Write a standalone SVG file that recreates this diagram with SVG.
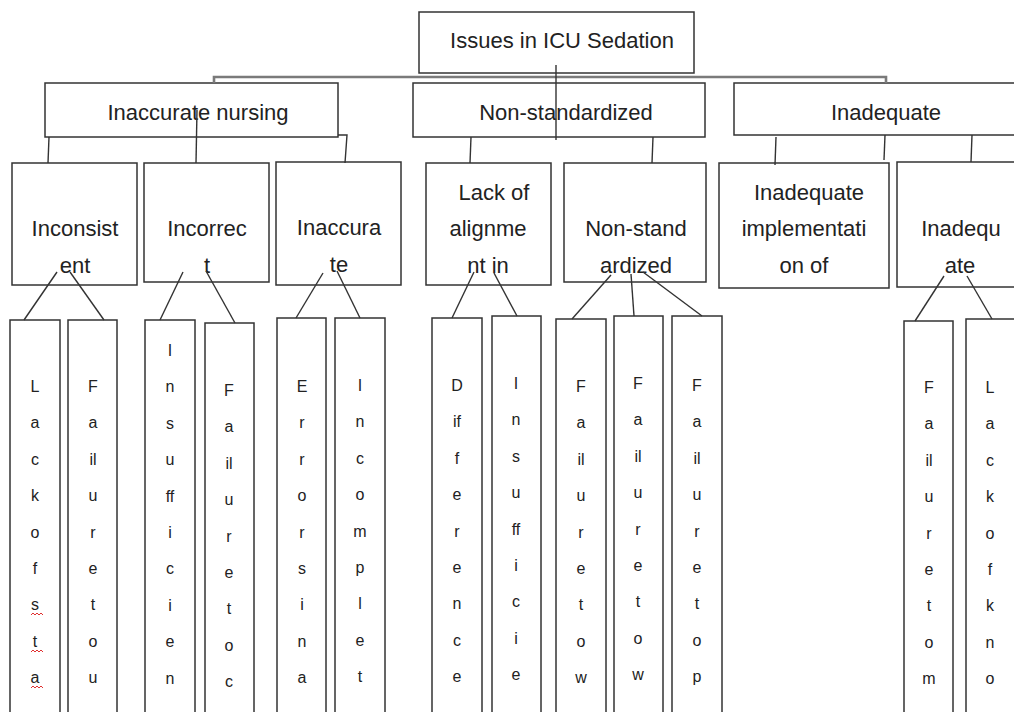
<svg xmlns="http://www.w3.org/2000/svg" width="1014" height="712" viewBox="0 0 1014 712">
<style>
.b{fill:#fff;stroke:#333;stroke-width:1.5}
.t{font-family:"Liberation Sans",Arial,sans-serif;font-size:22px;fill:#222;text-anchor:middle}
.v{font-family:"Liberation Sans",Arial,sans-serif;font-size:16px;fill:#222;text-anchor:middle}
.c{fill:none;stroke:#333;stroke-width:1.4}
.g{fill:none;stroke:#7a7a7a;stroke-width:2.6}
.sq{fill:none;stroke:#e03030;stroke-width:1}
</style>
<rect width="1014" height="712" fill="#fff"/>

<g id="root"><rect class="b" x="419" y="12" width="275" height="61"/><text class="t" x="562" y="48">Issues in ICU Sedation</text></g>

<g id="n-inaccurate-nursing"><rect class="b" x="45" y="83" width="293" height="54"/><text class="t" x="198" y="120">Inaccurate nursing</text></g>
<g id="n-non-standardized"><rect class="b" x="413" y="83" width="292" height="54"/><text class="t" x="566" y="120">Non-standardized</text></g>
<g id="n-inadequate"><rect class="b" x="734" y="83" width="290" height="52"/><text class="t" x="886" y="120">Inadequate</text></g>

<g id="n-inconsistent"><rect class="b" x="12" y="163" width="125" height="122"/><text class="t" x="75" y="236">Inconsist</text><text class="t" x="75" y="273">ent</text></g>
<g id="n-incorrect"><rect class="b" x="144" y="163" width="125" height="119"/><text class="t" x="207" y="236">Incorrec</text><text class="t" x="207" y="273">t</text></g>
<g id="n-inaccurate"><rect class="b" x="276" y="162" width="125" height="123"/><text class="t" x="339" y="235">Inaccura</text><text class="t" x="339" y="272">te</text></g>
<g id="n-lack-alignment"><rect class="b" x="426" y="163" width="125" height="122"/><text class="t" x="494" y="200">Lack of</text><text class="t" x="488" y="236">alignme</text><text class="t" x="488" y="273">nt in</text></g>
<g id="n-non-standardized-2"><rect class="b" x="564" y="163" width="142" height="119"/><text class="t" x="636" y="236">Non-stand</text><text class="t" x="636" y="273">ardized</text></g>
<g id="n-inadequate-impl"><rect class="b" x="719" y="163" width="170" height="125"/><text class="t" x="809" y="200">Inadequate</text><text class="t" x="804" y="236">implementati</text><text class="t" x="804" y="273">on of</text></g>
<g id="n-inadequate-2"><rect class="b" x="897" y="162" width="130" height="125"/><text class="t" x="961" y="236">Inadequ</text><text class="t" x="960" y="273">ate</text></g>

<g id="col1"><rect class="b" x="10" y="320" width="50" height="400"/>
<text class="v" x="35" y="392">L</text><text class="v" x="35" y="428">a</text><text class="v" x="35" y="465">c</text><text class="v" x="35" y="501">k</text><text class="v" x="35" y="538">o</text><text class="v" x="35" y="574">f</text><text class="v" x="35" y="610">s</text><text class="v" x="35" y="647">t</text><text class="v" x="35" y="683">a</text>
<path class="sq" d="M31,615 l2,-2 l2,2 l2,-2 l2,2 l2,-2 l2,2"/><path class="sq" d="M31,652 l2,-2 l2,2 l2,-2 l2,2 l2,-2 l2,2"/><path class="sq" d="M31,688 l2,-2 l2,2 l2,-2 l2,2 l2,-2 l2,2"/></g>
<g id="col2"><rect class="b" x="68" y="320" width="49" height="400"/>
<text class="v" x="93" y="392">F</text><text class="v" x="93" y="428">a</text><text class="v" x="93" y="465">il</text><text class="v" x="93" y="501">u</text><text class="v" x="93" y="538">r</text><text class="v" x="93" y="574">e</text><text class="v" x="93" y="610">t</text><text class="v" x="93" y="647">o</text><text class="v" x="93" y="683">u</text></g>
<g id="col3"><rect class="b" x="145" y="320" width="50" height="400"/>
<text class="v" x="170" y="356">I</text><text class="v" x="170" y="392">n</text><text class="v" x="170" y="429">s</text><text class="v" x="170" y="465">u</text><text class="v" x="170" y="502">ff</text><text class="v" x="170" y="538">i</text><text class="v" x="170" y="574">c</text><text class="v" x="170" y="611">i</text><text class="v" x="170" y="647">e</text><text class="v" x="170" y="684">n</text></g>
<g id="col4"><rect class="b" x="205" y="323" width="49" height="400"/>
<text class="v" x="229" y="396">F</text><text class="v" x="229" y="432">a</text><text class="v" x="229" y="469">il</text><text class="v" x="229" y="505">u</text><text class="v" x="229" y="542">r</text><text class="v" x="229" y="578">e</text><text class="v" x="229" y="614">t</text><text class="v" x="229" y="651">o</text><text class="v" x="229" y="687">c</text></g>
<g id="col5"><rect class="b" x="277" y="318" width="49" height="400"/>
<text class="v" x="302" y="392">E</text><text class="v" x="302" y="428">r</text><text class="v" x="302" y="465">r</text><text class="v" x="302" y="501">o</text><text class="v" x="302" y="538">r</text><text class="v" x="302" y="574">s</text><text class="v" x="302" y="610">i</text><text class="v" x="302" y="647">n</text><text class="v" x="302" y="683">a</text></g>
<g id="col6"><rect class="b" x="335" y="318" width="50" height="400"/>
<text class="v" x="360" y="391">I</text><text class="v" x="360" y="427">n</text><text class="v" x="360" y="464">c</text><text class="v" x="360" y="500">o</text><text class="v" x="360" y="537">m</text><text class="v" x="360" y="573">p</text><text class="v" x="360" y="609">l</text><text class="v" x="360" y="646">e</text><text class="v" x="360" y="682">t</text></g>
<g id="col7"><rect class="b" x="432" y="318" width="50" height="400"/>
<text class="v" x="457" y="391">D</text><text class="v" x="457" y="427">if</text><text class="v" x="457" y="464">f</text><text class="v" x="457" y="500">e</text><text class="v" x="457" y="537">r</text><text class="v" x="457" y="573">e</text><text class="v" x="457" y="609">n</text><text class="v" x="457" y="646">c</text><text class="v" x="457" y="682">e</text></g>
<g id="col8"><rect class="b" x="492" y="316" width="49" height="400"/>
<text class="v" x="516" y="389">I</text><text class="v" x="516" y="425">n</text><text class="v" x="516" y="462">s</text><text class="v" x="516" y="498">u</text><text class="v" x="516" y="535">ff</text><text class="v" x="516" y="571">i</text><text class="v" x="516" y="607">c</text><text class="v" x="516" y="644">i</text><text class="v" x="516" y="680">e</text></g>
<g id="col9"><rect class="b" x="556" y="319" width="50" height="400"/>
<text class="v" x="581" y="392">F</text><text class="v" x="581" y="428">a</text><text class="v" x="581" y="465">il</text><text class="v" x="581" y="501">u</text><text class="v" x="581" y="538">r</text><text class="v" x="581" y="574">e</text><text class="v" x="581" y="610">t</text><text class="v" x="581" y="647">o</text><text class="v" x="581" y="683">w</text></g>
<g id="col10"><rect class="b" x="614" y="316" width="49" height="400"/>
<text class="v" x="638" y="389">F</text><text class="v" x="638" y="425">a</text><text class="v" x="638" y="462">il</text><text class="v" x="638" y="498">u</text><text class="v" x="638" y="535">r</text><text class="v" x="638" y="571">e</text><text class="v" x="638" y="607">t</text><text class="v" x="638" y="644">o</text><text class="v" x="638" y="680">w</text></g>
<g id="col11"><rect class="b" x="672" y="316" width="50" height="400"/>
<text class="v" x="697" y="391">F</text><text class="v" x="697" y="427">a</text><text class="v" x="697" y="464">il</text><text class="v" x="697" y="500">u</text><text class="v" x="697" y="537">r</text><text class="v" x="697" y="573">e</text><text class="v" x="697" y="609">t</text><text class="v" x="697" y="646">o</text><text class="v" x="697" y="682">p</text></g>
<g id="col12"><rect class="b" x="904" y="321" width="49" height="400"/>
<text class="v" x="929" y="393">F</text><text class="v" x="929" y="429">a</text><text class="v" x="929" y="466">il</text><text class="v" x="929" y="502">u</text><text class="v" x="929" y="539">r</text><text class="v" x="929" y="575">e</text><text class="v" x="929" y="611">t</text><text class="v" x="929" y="648">o</text><text class="v" x="929" y="684">m</text></g>
<g id="col13"><rect class="b" x="966" y="319" width="60" height="400"/>
<text class="v" x="990" y="393">L</text><text class="v" x="990" y="429">a</text><text class="v" x="990" y="466">c</text><text class="v" x="990" y="502">k</text><text class="v" x="990" y="539">o</text><text class="v" x="990" y="575">f</text><text class="v" x="990" y="611">k</text><text class="v" x="990" y="648">n</text><text class="v" x="990" y="684">o</text></g>

<g id="connectors">
<path class="g" d="M214,83 V77 H886 V83"/>
<path class="c" d="M556,65 V140"/>
<path class="c" d="M49,137 L48,163"/>
<path class="c" d="M197,110 L196,163"/>
<path class="c" d="M338,135 H347 L345,163"/>
<path class="c" d="M471,137 L470,163"/>
<path class="c" d="M653,137 L652,163"/>
<path class="c" d="M776,137 L775,165"/>
<path class="c" d="M885,135 L884,160"/>
<path class="c" d="M972,135 L971,162"/>
<path class="c" d="M57,272 L24,320"/>
<path class="c" d="M70,272 L104,320"/>
<path class="c" d="M183,272 L160,320"/>
<path class="c" d="M206,271 L235,323"/>
<path class="c" d="M323,273 L296,318"/>
<path class="c" d="M337,271 L360,318"/>
<path class="c" d="M474,272 L452,318"/>
<path class="c" d="M494,273 L517,316"/>
<path class="c" d="M611,275 L572,319"/>
<path class="c" d="M631,274 L634,316"/>
<path class="c" d="M643,272 L702,316"/>
<path class="c" d="M944,276 L915,321"/>
<path class="c" d="M967,276 L992,319"/>
</g>
</svg>
